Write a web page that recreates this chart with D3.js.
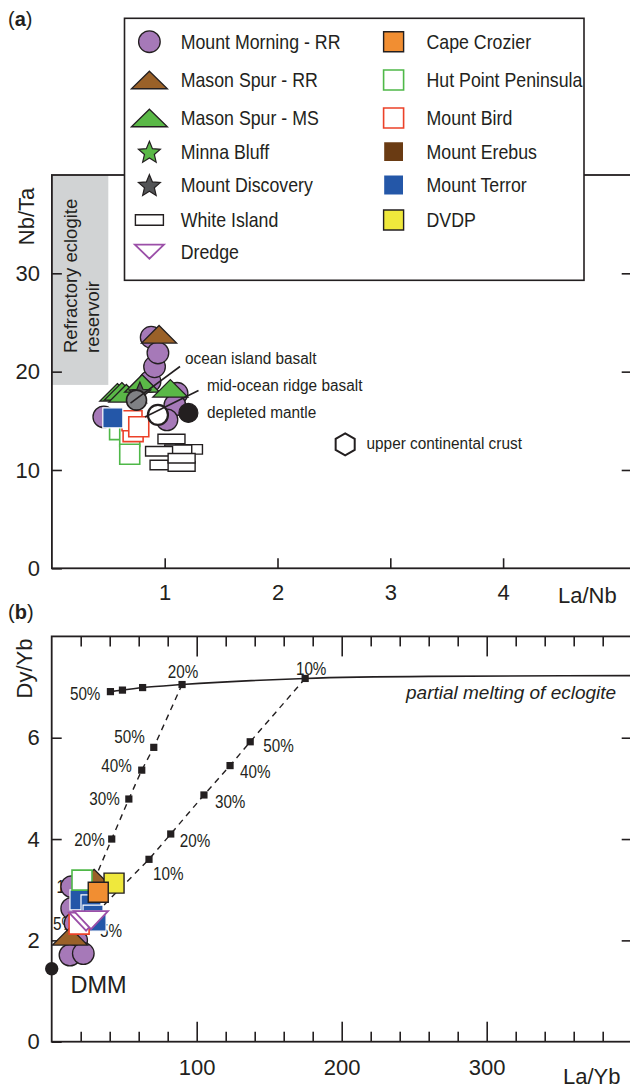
<!DOCTYPE html>
<html><head><meta charset="utf-8">
<script src="https://cdn.jsdelivr.net/npm/d3@7"></script>
<style>
html,body{margin:0;padding:0;background:#fff;}
svg{display:block;font-family:"Liberation Sans",Arial,Helvetica,sans-serif;}
</style></head><body>
<svg id="chart" width="630" height="1088"></svg>
<script>
// ---------- series (legend order) ----------
const seriesNames = ["Mount Morning - RR","Mason Spur - RR","Mason Spur - MS","Minna Bluff","Mount Discovery","White Island","Dredge",
                     "Cape Crozier","Hut Point Peninsula","Mount Bird","Mount Erebus","Mount Terror","DVDP"];

// ---------- panel (a): La/Nb vs Nb/Ta ----------
const aMorningRR   = [[0.88,23.5],[0.87,19.0],[0.91,20.5],[0.94,21.9],[1.11,17.8],[1.09,16.6],[1.02,15.1],[0.46,15.4]];
const aMasonRR     = [[0.95,23.8]];
const aMasonMS     = [[0.58,17.9],[0.62,18.0],[0.66,17.8],[0.80,18.8],[1.05,18.3]];
const aMinnaBluff  = [];
const aDiscovery   = [[0.78,17.9]];
const aWhiteIsland = [[1.215,12.1],[1.12,12.05],[1.06,13.15],[0.95,11.9],[0.99,10.5],[1.15,10.35],[1.15,11.2]];
const aDredge      = [];
const aCrozier     = [];
const aHutPoint    = [[0.60,14.1],[0.69,13.4],[0.69,11.6]];
const aBird        = [[0.72,13.9],[0.71,15.0],[0.77,14.4]];
const aErebus      = [];
const aTerror      = [[0.54,15.3]];
const aDVDP        = [];

// reservoir end-members
const aRefNames  = ["ocean island basalt","mid-ocean ridge basalt","depleted mantle","upper continental crust"];
const aRefValues = [[0.75,17.1],[0.94,15.6],[1.21,15.8],[2.60,12.6]];
// refractory eclogite reservoir field (La/Nb range, Nb/Ta range)
const refractoryLaNb = [0, 0.5];
const refractoryNbTa = [18.65, 40];

const aXTicks = [1,2,3,4];
const aYTicks = [0,10,20,30];

// ---------- panel (b): La/Yb vs Dy/Yb ----------
const bMorningRR = [[13.8,3.06],[13.8,2.63],[16.1,2.34],[17.2,2.0],[12.6,1.71],[21.8,1.74]];
const bMasonRR   = [[12.6,2.08],[29.2,3.23]];
const bTerror    = [[19.5,2.80],[27.1,2.70],[28.5,2.50],[30.6,2.38]];
const bHutPoint  = [[20.9,3.19]];
const bDVDP      = [[43.0,3.13]];
const bCrozier   = [[32.1,2.95]];
const bBird      = [[18.9,2.32]];
const bDredge    = [[23.7,2.37],[27.1,2.40]];
const bDMM       = [0, 1.44];

// partial melting of eclogite
const meltCurve  = [[40.5,6.91],[48.8,6.94],[62.7,6.99],[89.9,7.05],[174.8,7.17],[260,7.21],[400,7.225]];
const meltSteps  = [[40.5,6.91],[48.8,6.94],[62.7,6.99],[89.9,7.05],[174.8,7.17]];
const meltLabels = ["50%","","","20%","10%"];
// mixing trajectories from the 20% and 10% melts
const mix1       = [[70.4,5.81],[62.1,5.36],[53.2,4.79],[41.4,4.0],[28.5,3.13],[20.2,2.34]];
const mix1Labels = ["50%","40%","30%","20%","10%","5%"];
const mix2       = [[136.9,5.92],[123.0,5.45],[105.0,4.87],[82.1,4.10],[67.1,3.60],[31.3,2.56]];
const mix2Labels = ["50%","40%","30%","20%","10%","5%"];

const bXMajor = [100,200,300];
const bXMinor = d3.range(20,400,20).filter(v => v % 100 !== 0);
const bYTicks = [0,2,4,6];

// ---------- label placement (px offsets from the step marker) ----------
const meltLabelPos = [[-10,8,"end"],null,null,[1,-7,"middle"],[6,-3,"middle"]];
const mix1LabelPos = [[-9,-4],[-10,2],[-9,6],[-7,7],[-6,10],[-6,7]];
const mix2LabelPos = [[13,10],[10,12],[11,13],[9,13],[4,21],[3,25]];

// ---------- styles ----------
const INK = "#231f20";
const styles = {
  "Mount Morning - RR":  {shape:"circle", fill:"#a679b8", stroke:INK, sw:1.3},
  "Mason Spur - RR":     {shape:"triUp",  fill:"#9a6128", stroke:INK, sw:1.3},
  "Mason Spur - MS":     {shape:"triUp",  fill:"#5ab847", stroke:INK, sw:1.3},
  "Minna Bluff":         {shape:"star",   fill:"#5ab847", stroke:INK, sw:1.2},
  "Mount Discovery":     {shape:"star",   fill:"#535456", stroke:INK, sw:1.2},
  "White Island":        {shape:"rect",   fill:"#ffffff", stroke:INK, sw:1.4},
  "Dredge":              {shape:"triDown",fill:"#ffffff", stroke:"#9b4fa8", sw:1.8},
  "Cape Crozier":        {shape:"square", fill:"#f18e32", stroke:INK, sw:1.4},
  "Hut Point Peninsula": {shape:"square", fill:"#ffffff", stroke:"#4fb848", sw:1.6},
  "Mount Bird":          {shape:"square", fill:"#ffffff", stroke:"#ec4129", sw:1.6},
  "Mount Erebus":        {shape:"square", fill:"#6a3b13", stroke:"#ffffff", sw:1.2},
  "Mount Terror":        {shape:"square", fill:"#2457a8", stroke:"#ffffff", sw:1.2},
  "DVDP":                {shape:"square", fill:"#efe83c", stroke:INK, sw:1.4}
};
const shapeSize = {circle:{r:10.8}, triUp:{w:35,h:17.5}, triDown:{w:34,h:18}, star:{r:11.5},
                   square:{s:20}, rect:{w:27,h:9.5}, hex:{r:11}};
const legendShapeSize = Object.assign({}, shapeSize, {triUp:{w:36,h:17.5}, triDown:{w:29,h:14}, rect:{w:28,h:10.5}});

function shapePath(kind, sz){
  const p = d3.path();
  if (kind === "circle"){ p.arc(0,0,sz.r,0,2*Math.PI); p.closePath(); }
  else if (kind === "triUp"){ p.moveTo(0,-sz.h/2); p.lineTo(sz.w/2,sz.h/2); p.lineTo(-sz.w/2,sz.h/2); p.closePath(); }
  else if (kind === "triDown"){ p.moveTo(-sz.w/2,-sz.h/2); p.lineTo(sz.w/2,-sz.h/2); p.lineTo(0,sz.h/2); p.closePath(); }
  else if (kind === "star"){
    for (let i=0;i<10;i++){
      const rr = i%2===0 ? sz.r : sz.r*0.45, a = -Math.PI/2 + i*Math.PI/5;
      const x = rr*Math.cos(a), y = rr*Math.sin(a) + sz.r*0.1;
      i===0 ? p.moveTo(x,y) : p.lineTo(x,y);
    }
    p.closePath();
  }
  else if (kind === "square"){ p.rect(-sz.s/2,-sz.s/2,sz.s,sz.s); }
  else if (kind === "rect"){ p.rect(-sz.w/2,-sz.h/2,sz.w,sz.h); }
  else if (kind === "hex"){
    for (let i=0;i<6;i++){ const a = -Math.PI/2 + i*Math.PI/3; const x=sz.r*Math.cos(a), y=sz.r*Math.sin(a); i===0?p.moveTo(x,y):p.lineTo(x,y); }
    p.closePath();
  }
  return p.toString();
}

function condense(sel, f){
  sel.each(function(){
    const w = this.getComputedTextLength();
    d3.select(this).attr("textLength", w*f).attr("lengthAdjust","spacingAndGlyphs");
  });
}

function plotSeries(g, name, data, x, y, sizes){
  const st = styles[name];
  const sz = (sizes || shapeSize)[st.shape];
  g.append("g").selectAll("path").data(data).join("path")
    .attr("transform", d => `translate(${x(d[0])},${y(d[1])})`)
    .attr("d", shapePath(st.shape, sz))
    .attr("fill", st.fill).attr("stroke", st.stroke).attr("stroke-width", st.sw)
    .attr("stroke-linejoin","miter");
}

function styleAxis(g, fs){
  g.select(".domain").remove();
  g.selectAll(".tick line").attr("stroke", INK).attr("stroke-width", 1.6);
  g.selectAll(".tick text").attr("fill", INK).attr("font-size", fs)
    .attr("font-family", '"Liberation Sans",Arial,sans-serif');
}

const svg = d3.select("#chart");

// =====================================================================
// panel (a)
// =====================================================================
const xA = d3.scaleLinear().domain([0, 5.14]).range([51.9, 631.7]);
const yA = d3.scaleLinear().domain([0, 40]).range([568.3, 175]);
const gA = svg.append("g");

gA.append("rect")
  .attr("x", xA(refractoryLaNb[0])).attr("y", yA(refractoryNbTa[1]))
  .attr("width", xA(refractoryLaNb[1]) - xA(refractoryLaNb[0]))
  .attr("height", yA(refractoryNbTa[0]) - yA(refractoryNbTa[1]))
  .attr("fill", "#d1d3d4");

const refText = gA.append("text").attr("transform","translate(0,353) rotate(-90)")
  .attr("font-size", 18.5).attr("fill", INK);
refText.append("tspan").attr("x",0).attr("y",76.5).text("Refractory eclogite");
refText.append("tspan").attr("x",0).attr("y",99).text("reservoir");

// axes
gA.append("g").attr("transform",`translate(0,${yA(0)})`)
  .call(d3.axisBottom(xA).tickValues(aXTicks).tickSize(-10).tickPadding(16).tickFormat(d3.format("d")))
  .call(g => styleAxis(g, 22));
gA.append("g").attr("transform",`translate(${xA(0)},0)`)
  .call(d3.axisLeft(yA).tickValues(aYTicks).tickSize(-10).tickPadding(12).tickFormat(d3.format("d")))
  .call(g => styleAxis(g, 22));
gA.append("g").attr("transform",`translate(${xA.range()[1]},0)`)
  .call(d3.axisRight(yA).tickValues(aYTicks.filter(v=>v>0)).tickSize(-10).tickFormat(""))
  .call(g => styleAxis(g, 22));
gA.append("rect").attr("x", xA.range()[0]).attr("y", yA.range()[1])
  .attr("width", xA.range()[1]-xA.range()[0]).attr("height", yA.range()[0]-yA.range()[1])
  .attr("fill","none").attr("stroke",INK).attr("stroke-width",1.8);

gA.append("text").attr("transform","translate(33.5,216.5) rotate(-90)").attr("text-anchor","middle")
  .attr("font-size",22).attr("fill",INK).text("Nb/Ta");
gA.append("text").attr("x",558).attr("y",603).attr("font-size",22).attr("fill",INK).text("La/Nb");

const pa = gA.append("text").attr("x",8).attr("y",26).attr("font-size",20).attr("fill",INK);
pa.append("tspan").text("(");
pa.append("tspan").attr("font-weight","bold").text("a");
pa.append("tspan").text(")");

// data
const aSeries = {
  "Mount Morning - RR": aMorningRR, "Mason Spur - RR": aMasonRR, "Mason Spur - MS": aMasonMS,
  "Minna Bluff": aMinnaBluff, "Mount Discovery": aDiscovery, "White Island": aWhiteIsland,
  "Hut Point Peninsula": aHutPoint, "Mount Bird": aBird, "Mount Terror": aTerror, "Mount Erebus": aErebus,
  "Cape Crozier": aCrozier, "DVDP": aDVDP, "Dredge": aDredge
};
Object.keys(aSeries).forEach(n => plotSeries(gA, n, aSeries[n], xA, yA));

// end-member reservoirs
const refStyle = [
  {shape:"circle", fill:"#808184", sw:1.6, r:10},
  {shape:"circle", fill:"#ffffff", sw:2.2, r:10},
  {shape:"circle", fill:INK,       sw:1.2, r:9.5},
  {shape:"hex",    fill:"#ffffff", sw:2.0, r:11}
];
aRefValues.forEach((v,i) => {
  const s = refStyle[i];
  gA.append("path").attr("transform",`translate(${xA(v[0])},${yA(v[1])})`)
    .attr("d", shapePath(s.shape, {r:s.r})).attr("fill", s.fill).attr("stroke", INK).attr("stroke-width", s.sw);
});
// leader lines
const leaders = [[0,[-6,3],[180,366.5]],[1,[-13,2],[198.5,390.5]]];
leaders.forEach(([i,off,end]) => {
  const v = aRefValues[i];
  gA.append("line").attr("x1", xA(v[0])+off[0]).attr("y1", yA(v[1])+off[1])
    .attr("x2", end[0]).attr("y2", end[1]).attr("stroke", INK).attr("stroke-width",1.6);
});
const refLabelPos = [[185,363.5],[207,391],[207,417.5],[366.5,449]];
aRefNames.forEach((t,i) => {
  gA.append("text").attr("x",refLabelPos[i][0]).attr("y",refLabelPos[i][1])
    .attr("font-size",16).attr("fill",INK).text(t).call(condense, 0.96);
});

// legend
const leg = gA.append("g");
leg.append("rect").attr("x",124.5).attr("y",18.3).attr("width",459.5).attr("height",262)
  .attr("fill","#fff").attr("stroke",INK).attr("stroke-width",1.6);
const legRows = [41.7, 80, 118, 151.7, 185, 220, 251.7];
seriesNames.forEach((n,i) => {
  const col = i < 7 ? 0 : 1, row = i < 7 ? i : i-7;
  const sx = col ? 393.6 : 149.4, tx = col ? 426.5 : 180.7, cy = legRows[row];
  const st = styles[n];
  leg.append("path").attr("transform",`translate(${sx},${cy})`)
    .attr("d", shapePath(st.shape, legendShapeSize[st.shape]))
    .attr("fill", st.fill).attr("stroke", st.stroke).attr("stroke-width", st.sw);
  leg.append("text").attr("x",tx).attr("y",cy+7).attr("font-size",21).attr("fill",INK).text(n).call(condense,0.845);
});

// =====================================================================
// panel (b)
// =====================================================================
const xB = d3.scaleLinear().domain([0, 400]).range([51.7, 631.7]);
const yB = d3.scaleLinear().domain([0, 8]).range([1041.7, 636.4]);
const gB = svg.append("g");

gB.append("g").attr("transform",`translate(0,${yB(0)})`)
  .call(d3.axisBottom(xB).tickValues(bXMinor).tickSize(-10).tickFormat("")).call(g => styleAxis(g,22));
gB.append("g").attr("transform",`translate(0,${yB(0)})`)
  .call(d3.axisBottom(xB).tickValues(bXMajor).tickSize(-20).tickPadding(17.5).tickFormat(d3.format("d")))
  .call(g => styleAxis(g,22));
gB.append("g").attr("transform",`translate(0,${yB(8)})`)
  .call(d3.axisTop(xB).tickValues(bXMinor).tickSize(-10).tickFormat("")).call(g => styleAxis(g,22));
gB.append("g").attr("transform",`translate(0,${yB(8)})`)
  .call(d3.axisTop(xB).tickValues(bXMajor).tickSize(-20).tickFormat("")).call(g => styleAxis(g,22));
gB.append("g").attr("transform",`translate(${xB(0)},0)`)
  .call(d3.axisLeft(yB).tickValues(bYTicks).tickSize(-10).tickPadding(12).tickFormat(d3.format("d")))
  .call(g => styleAxis(g,22));
gB.append("g").attr("transform",`translate(${xB(400)},0)`)
  .call(d3.axisRight(yB).tickValues(bYTicks.filter(v=>v>0)).tickSize(-10).tickFormat(""))
  .call(g => styleAxis(g,22));
gB.append("rect").attr("x", xB.range()[0]).attr("y", yB.range()[1])
  .attr("width", xB.range()[1]-xB.range()[0]).attr("height", yB.range()[0]-yB.range()[1])
  .attr("fill","none").attr("stroke",INK).attr("stroke-width",1.8);

gB.append("text").attr("transform","translate(32,668.5) rotate(-90)").attr("text-anchor","middle")
  .attr("font-size",22).attr("fill",INK).text("Dy/Yb");
gB.append("text").attr("x",563).attr("y",1084).attr("font-size",22).attr("fill",INK).text("La/Yb");
const pb = gB.append("text").attr("x",8).attr("y",619).attr("font-size",20).attr("fill",INK);
pb.append("tspan").text("(");
pb.append("tspan").attr("font-weight","bold").text("b");
pb.append("tspan").text(")");

// melting curve and mixing trajectories
const lineB = d3.line().x(d => xB(d[0])).y(d => yB(d[1]));
gB.append("path").datum(meltCurve).attr("d", lineB.curve(d3.curveMonotoneX))
  .attr("fill","none").attr("stroke",INK).attr("stroke-width",1.6);
lineB.curve(d3.curveLinear);
gB.append("path").datum([meltSteps[3]].concat(mix1)).attr("d", lineB)
  .attr("fill","none").attr("stroke",INK).attr("stroke-width",1.4).attr("stroke-dasharray","6,5");
gB.append("path").datum([meltSteps[4]].concat(mix2)).attr("d", lineB)
  .attr("fill","none").attr("stroke",INK).attr("stroke-width",1.4).attr("stroke-dasharray","6,5");

function stepMarks(pts, labels, pos, defAnchor){
  gB.append("g").selectAll("rect").data(pts).join("rect")
    .attr("x", d => xB(d[0])-3.6).attr("y", d => yB(d[1])-3.6).attr("width",7.2).attr("height",7.2).attr("fill",INK);
  pts.forEach((d,i) => {
    if (!labels[i] || !pos[i]) return;
    gB.append("text").attr("x", xB(d[0])+pos[i][0]).attr("y", yB(d[1])+pos[i][1])
      .attr("text-anchor", pos[i][2] || defAnchor).attr("font-size",17.5).attr("fill",INK)
      .text(labels[i]).call(condense, 0.87);
  });
}
stepMarks(meltSteps, meltLabels, meltLabelPos, "start");
stepMarks(mix1, mix1Labels, mix1LabelPos, "end");
stepMarks(mix2, mix2Labels, mix2LabelPos, "start");

gB.append("text").attr("x",406).attr("y",699).attr("font-size",19).attr("font-style","italic")
  .attr("fill",INK).text("partial melting of eclogite");

// samples
const bSeries = {
  "Mount Morning - RR": bMorningRR, "Mason Spur - RR": bMasonRR, "Mount Terror": bTerror,
  "Hut Point Peninsula": bHutPoint, "DVDP": bDVDP, "Cape Crozier": bCrozier, "Mount Bird": bBird, "Dredge": bDredge
};
Object.keys(bSeries).forEach(n => plotSeries(gB, n, bSeries[n], xB, yB));

gB.append("circle").attr("cx", xB(bDMM[0])).attr("cy", yB(bDMM[1])).attr("r",6.7).attr("fill",INK);
gB.append("text").attr("x",70.5).attr("y",993).attr("font-size",23.5).attr("fill",INK).text("DMM");
</script>
</body></html>
